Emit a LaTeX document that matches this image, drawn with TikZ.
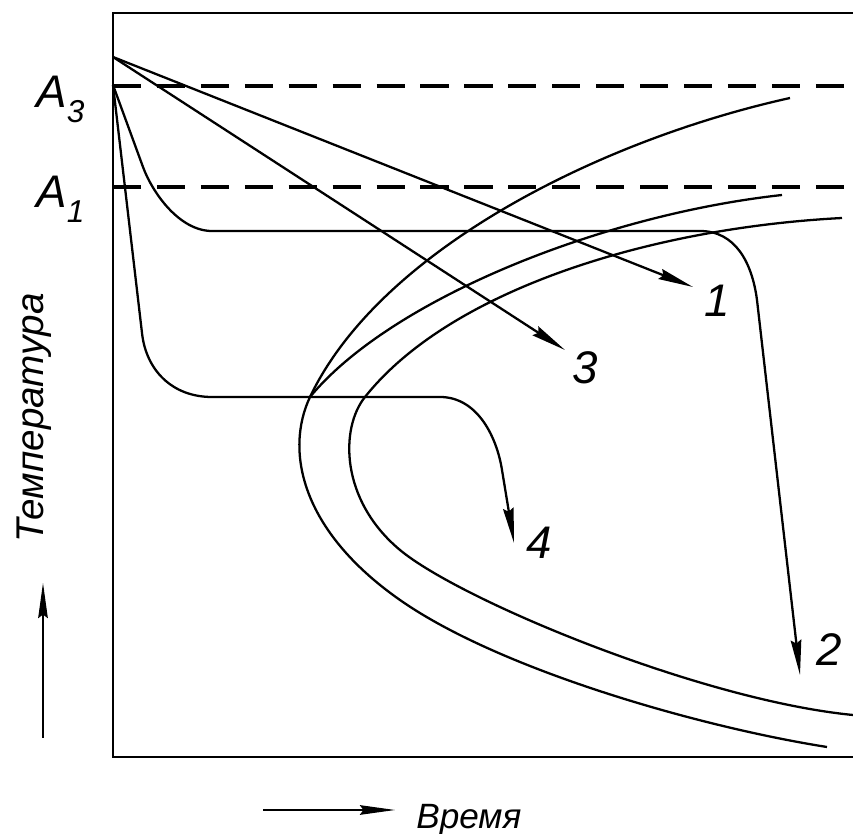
\documentclass[tikz,border=0pt]{standalone}
\usepackage{fontspec}
\setmainfont{Liberation Sans}
\usetikzlibrary{arrows.meta}
\begin{document}
\begin{tikzpicture}[x=0.02cm,y=-0.02cm,
  framestyle/.style={line width=1.7pt},
  dashstyle/.style={line width=1.8pt,dash pattern=on 16pt off 9pt},
  curvestyle/.style={line width=1.3pt},
  coolstyle/.style={line width=1.3pt,-{Stealth[length=20pt,width=6pt,inset=2pt]}},
  axisarrow/.style={line width=0.7pt,-{Stealth[length=20pt,width=5.5pt,inset=2pt]}},
  numlabel/.style={inner sep=0pt,font=\fontsize{26}{30}\selectfont\itshape},
  alabel/.style={inner sep=0pt,anchor=base west,font=\fontsize{26}{30}\selectfont\itshape},
  axlabel/.style={inner sep=0pt,font=\itshape}]
\useasboundingbox (0,0) rectangle (853,834);
% frame
\draw[framestyle] (853,13) -- (113,13) -- (113,757) -- (853,757);
% dashed critical lines
\coordinate (a3l) at (113,86); \coordinate (a3r) at (853,86);
\coordinate (a1l) at (113,187); \coordinate (a1r) at (853,187);
\draw[dashstyle] (a3l) -- (a3r);
\draw[dashstyle] (a1l) -- (a1r);
% labels A3, A1
\node[alabel] (lA3) at (36,108) {A\raisebox{-0.32em}{\fontsize{18}{18}\selectfont 3}};
\node[alabel] (lA1) at (36,208) {A\raisebox{-0.32em}{\fontsize{18}{18}\selectfont 1}};
% C-curves
\coordinate (ct) at (790,98);
\coordinate (cm) at (782,195);
\coordinate (ci) at (842,218);
\coordinate (cj) at (310,397);
\coordinate (cob) at (827,747);
\coordinate (cib) at (853,715);
\draw[curvestyle] (ct) .. controls (600,140) and (380,250) .. (cj)
  .. controls (285,450) and (300,530) .. (400,600)
  .. controls (500,670) and (700,727) .. (cob);
\draw[curvestyle] (cm) .. controls (600,215) and (390,300) .. (cj);
\draw[curvestyle] (ci) .. controls (650,228) and (450,290) .. (365,397)
  .. controls (340,428) and (340,500) .. (400,550)
  .. controls (460,600) and (700,700) .. (cib);
% cooling curves
\coordinate (s1) at (113,57);
\coordinate (s2) at (113,85);
\coordinate (e1) at (693,287);
\coordinate (e3) at (565,350);
\coordinate (e2) at (800,675);
\coordinate (e4) at (514,543);
\draw[coolstyle] (s1) -- (e1);
\draw[coolstyle] (s1) -- (e3);
\draw[coolstyle] (s2) -- (143,167) .. controls (153,194) and (180,231) .. (212,231) -- (700,231) .. controls (735,231) and (752,262) .. (757,300) -- (e2);
\draw[coolstyle] (s2) -- (142,333) .. controls (146,370) and (172,397) .. (212,397) -- (440,397) .. controls (478,397) and (497,438) .. (502,470) -- (e4);
% number labels
\node[numlabel] (n1) at (717,301) {1};
\node[numlabel] (n2) at (829,650) {2};
\node[numlabel] (n3) at (585,368) {3};
\node[numlabel] (n4) at (539,543) {4};
% axis labels and arrows
\node[axlabel,rotate=90,font=\fontsize{22}{26}\selectfont\itshape] (temp) at (34,418) {Температура};
\coordinate (ta0) at (43,738); \coordinate (ta1) at (43,583);
\draw[axisarrow] (ta0) -- (ta1);
\node[axlabel,anchor=base west,font=\fontsize{20}{24}\selectfont\itshape] (time) at (416,828) {Время};
\coordinate (xa0) at (263,810); \coordinate (xa1) at (395,810);
\draw[axisarrow] (xa0) -- (xa1);
\end{tikzpicture}
\end{document}
